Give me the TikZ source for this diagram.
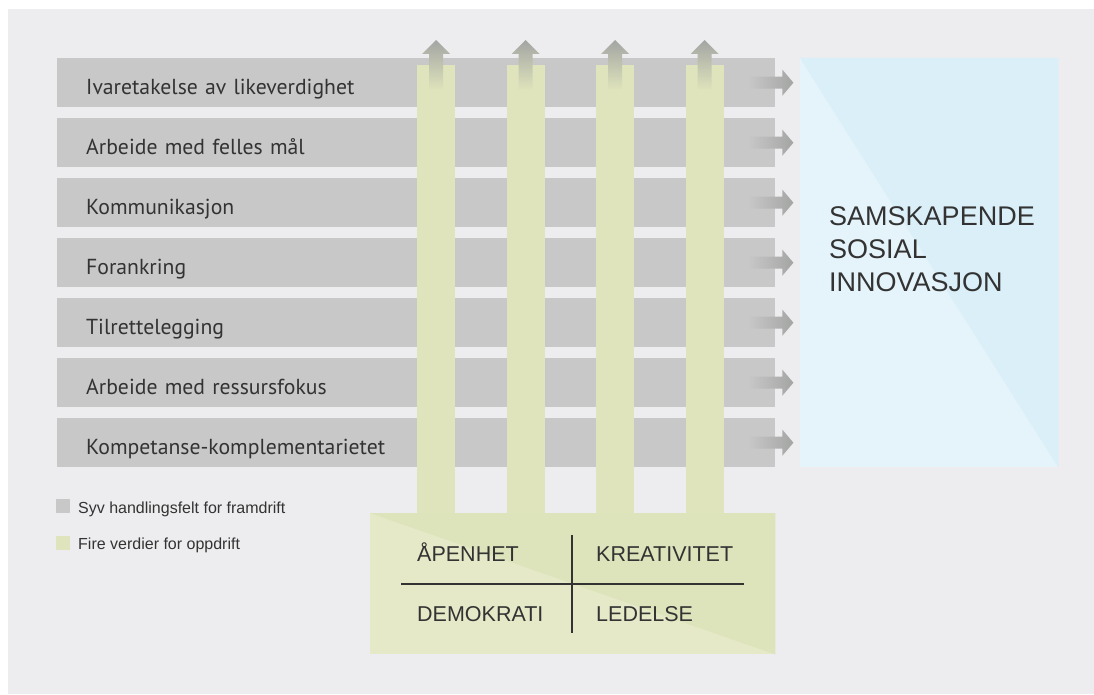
\documentclass[tikz,border=0pt]{standalone}
\usepackage{fontspec}
\setmainfont{Liberation Sans}
\newfontfamily\barfont{PT Sans}
\usetikzlibrary{calc}

\definecolor{bggray}{HTML}{EDEDEF}
\definecolor{bargray}{HTML}{C8C8C8}
\definecolor{arrowgray}{HTML}{A3A5A3}
\definecolor{pillargreen}{HTML}{DFE4BC}
\definecolor{greendark}{HTML}{DDE3BA}
\definecolor{greenlight}{HTML}{E5E9C7}
\definecolor{bluedark}{HTML}{DAEFF8}
\definecolor{bluelight}{HTML}{E5F3FA}
\definecolor{textdark}{HTML}{333333}

\begin{document}
\begin{tikzpicture}[x=1pt,y=-1pt]
        \tikzstyle{bar}=[rectangle, fill=bargray, anchor=north west, inner xsep=29pt, text width=660pt, minimum height=49pt, align=left, text height=23pt, text depth=0pt, font=\barfont\fontsize{21.7}{26}\selectfont, text=textdark]
        \tikzstyle{pillar}=[rectangle, fill=pillargreen, anchor=north, inner sep=0pt, minimum width=38pt, minimum height=452pt]
        \tikzstyle{rarrow}=[left color=bargray, right color=arrowgray]
        \tikzstyle{uarrow}=[top color=arrowgray, bottom color=pillargreen]
        \tikzstyle{value}=[anchor=base west, inner sep=0pt, font=\fontsize{21.5}{26}\selectfont, text=textdark]
        \tikzstyle{legendkey}=[rectangle, anchor=north west, inner sep=0pt, minimum size=14pt]
        \tikzstyle{legendtext}=[anchor=base west, inner sep=0pt, font=\fontsize{16}{19}\selectfont, text=textdark]

        \useasboundingbox (0,0) rectangle (1094,695);
        \fill[white] (0,0) rectangle (1094,695);
        \fill[bggray] (8,9) rectangle (1094,694);

        % goal
        \node[rectangle, fill=bluelight, anchor=north west, inner sep=0pt, minimum width=258pt, minimum height=409pt] (goal) at (800,58) {};
        \fill[bluedark] (goal.north west) -- (goal.north east) -- (goal.south east) -- cycle;
        \node[anchor=north west, inner sep=0pt, align=left, font=\fontsize{27}{33}\selectfont, text=textdark] (goaltext) at (829,206) {SAMSKAPENDE\\SOSIAL\\INNOVASJON};

        % seven fields
        \node[bar] (f1) at (57,58)  {Ivaretakelse av likeverdighet};
        \node[bar] (f2) at (57,118) {Arbeide med felles mål};
        \node[bar] (f3) at (57,178) {Kommunikasjon};
        \node[bar] (f4) at (57,238) {Forankring};
        \node[bar] (f5) at (57,298) {Tilrettelegging};
        \node[bar] (f6) at (57,358) {Arbeide med ressursfokus};
        \node[bar] (f7) at (57,418) {Kompetanse-komplementarietet};

        \shade[rarrow] ($(f1.east)+(-28,-6)$) -- ++(35,0) -- ++(0,-7) -- ++(11,13) -- ++(-11,13) -- ++(0,-7) -- ++(-35,0) -- cycle;
        \shade[rarrow] ($(f2.east)+(-28,-6)$) -- ++(35,0) -- ++(0,-7) -- ++(11,13) -- ++(-11,13) -- ++(0,-7) -- ++(-35,0) -- cycle;
        \shade[rarrow] ($(f3.east)+(-28,-6)$) -- ++(35,0) -- ++(0,-7) -- ++(11,13) -- ++(-11,13) -- ++(0,-7) -- ++(-35,0) -- cycle;
        \shade[rarrow] ($(f4.east)+(-28,-6)$) -- ++(35,0) -- ++(0,-7) -- ++(11,13) -- ++(-11,13) -- ++(0,-7) -- ++(-35,0) -- cycle;
        \shade[rarrow] ($(f5.east)+(-28,-6)$) -- ++(35,0) -- ++(0,-7) -- ++(11,13) -- ++(-11,13) -- ++(0,-7) -- ++(-35,0) -- cycle;
        \shade[rarrow] ($(f6.east)+(-28,-6)$) -- ++(35,0) -- ++(0,-7) -- ++(11,13) -- ++(-11,13) -- ++(0,-7) -- ++(-35,0) -- cycle;
        \shade[rarrow] ($(f7.east)+(-28,-6)$) -- ++(35,0) -- ++(0,-7) -- ++(11,13) -- ++(-11,13) -- ++(0,-7) -- ++(-35,0) -- cycle;

        % four values
        \node[pillar] (v1) at (436,65) {};
        \node[pillar] (v2) at (525.5,65) {};
        \node[pillar] (v3) at (615,65) {};
        \node[pillar] (v4) at (704.5,65) {};

        \shade[uarrow] ($(v1.north)+(-7,25)$) -- ++(0,-36) -- ++(-7,0) -- ++(14,-14) -- ++(14,14) -- ++(-7,0) -- ++(0,36) -- cycle;
        \shade[uarrow] ($(v2.north)+(-7,25)$) -- ++(0,-36) -- ++(-7,0) -- ++(14,-14) -- ++(14,14) -- ++(-7,0) -- ++(0,36) -- cycle;
        \shade[uarrow] ($(v3.north)+(-7,25)$) -- ++(0,-36) -- ++(-7,0) -- ++(14,-14) -- ++(14,14) -- ++(-7,0) -- ++(0,36) -- cycle;
        \shade[uarrow] ($(v4.north)+(-7,25)$) -- ++(0,-36) -- ++(-7,0) -- ++(14,-14) -- ++(14,14) -- ++(-7,0) -- ++(0,36) -- cycle;

        \node[rectangle, fill=greenlight, anchor=north west, inner sep=0pt, minimum width=405pt, minimum height=141pt] (vbox) at (370,513) {};
        \fill[greendark] (vbox.north west) -- (vbox.north east) -- (vbox.south east) -- cycle;

        \node[value] (open) at (417,561) {ÅPENHET};
        \node[value] (crea) at (596,561) {KREATIVITET};
        \node[value] (demo) at (417,621) {DEMOKRATI};
        \node[value] (lead) at (596,621) {LEDELSE};
        \draw[textdark, line width=1.3pt] (572,535) -- (572,633);
        \draw[textdark, line width=1.3pt] (401,584) -- (744,584);

        % legend
        \node[legendkey, fill=bargray] (k1) at (56,499) {};
        \node[legendkey, fill=pillargreen] (k2) at (56,536) {};
        \node[legendtext] (l1) at (78,513) {Syv handlingsfelt for framdrift};
        \node[legendtext] (l2) at (78,549) {Fire verdier for oppdrift};
\end{tikzpicture}
\end{document}
